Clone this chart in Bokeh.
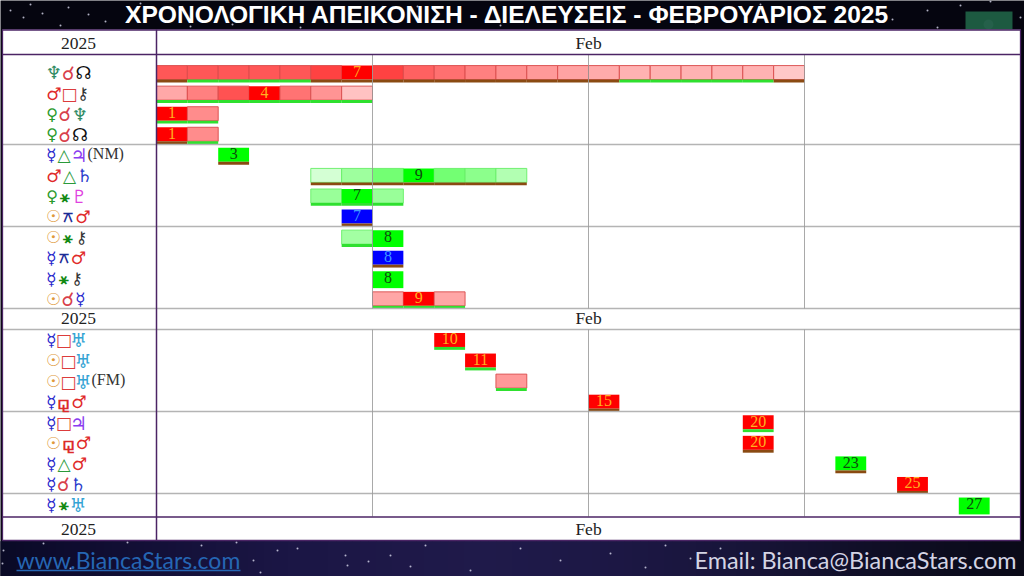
from bokeh.plotting import figure
from bokeh.models import ColumnDataSource, Range1d
from bokeh.core.properties import value
from bokeh.embed import file_html
from bokeh.resources import INLINE

# ---------- chart data ----------
TITLE = "ΧΡΟΝΟΛΟΓΙΚΗ ΑΠΕΙΚΟΝΙΣΗ - ΔΙΕΛΕΥΣΕΙΣ - ΦΕΒΡΟΥΑΡΙΟΣ 2025"
YEAR = "2025"
MONTH = "Feb"
SITE = "www.BiancaStars.com"
EMAIL = "Email: Bianca@BiancaStars.com"

row_slot = [0, 1, 2, 3, 4, 5, 6, 7, 8, 9, 10, 11, 13, 14, 15, 16, 17, 18, 19, 20, 21]
row_glyphs = [
    "♆☌☊", "♂□⚷", "♀☌♆", "♀☌☊",
    "☿△♃", "♂△♄", "♀⚹♇", "☉⚻♂",
    "☉⚹⚷", "☿⚻♂", "☿⚹⚷", "☉☌☿",
    "☿□♅", "☉□♅", "☉□♅", "☿⚼♂",
    "☿□♃", "☉⚼♂", "☿△♂", "☿☌♄",
    "☿⚹♅",
]
row_note = ["", "", "", "", "(NM)", "", "", "", "", "", "", "", "", "", "(FM)", "", "", "", "", "", ""]
row_first_day = [1, 1, 1, 1, 3, 6, 6, 7, 7, 8, 8, 8, 10, 11, 12, 15, 20, 20, 23, 25, 27]
row_kind = ["r", "r", "r", "r", "g", "g", "g", "b", "g", "b", "g", "r", "r", "r", "r", "r", "r", "r", "g", "r", "g"]
row_strength = [
    [.66, .66, .66, .66, .66, .74, 1, .74, .62, .56, .5, .44, .4, .36, .33, .3, .3, .3, .3, .3, .22],
    [.34, .5, .68, 1, .55, .42, .24],
    [1, .45],
    [1, .45],
    [1],
    [.17, .38, .55, 1, .55, .45, .3],
    [.4, 1, .4],
    [1],
    [.36, 1],
    [1],
    [1],
    [.35, 1, .35],
    [1],
    [1],
    [.4],
    [1],
    [1],
    [1],
    [1],
    [1],
    [1],
]
# per-day under-bar: g = applying, b = separating, n = none
row_base = [
    "bggggbbbbbbbbbbgggggb", "ggggggg", "gg", "bg",
    "b", "bbbbbbb", "ggg", "b",
    "gn", "b", "n", "ggg",
    "g", "g", "g", "b",
    "g", "b", "b", "b",
    "n",
]
star_x = [10, 23, 30, 42, 60, 68, 88, 105, 140, 190, 232, 300, 417, 500, 695, 760, 892, 927, 937, 990, 1020, 960,
          2, 43, 127, 201, 236, 253, 277, 297, 345, 347, 368, 390, 425, 470, 520, 560, 610, 645, 665, 690, 720, 3, 70, 260, 410]
star_y = [10, 17, 4, 13, 25, 7, 14, 21, 3, 26, 24, 27, 6, 25, 22, 4, 19, 10, 27, 1, 17, 5,
          563, 543, 542, 545, 542, 560, 550, 548, 555, 565, 561, 555, 545, 570, 548, 560, 553, 567, 545, 558, 548, 550, 568, 572, 566]
footer_shade = ["#0a0a26", "#0e0c2e", "#120f36", "#16123c", "#1a1544", "#1c1746", "#1e1848", "#1f1a4a",
                "#1e1948", "#1c1744", "#1a163f", "#171437", "#13112e", "#0f0e25", "#0c0c1e", "#0a0a18"]

# ---------- styling ----------
DAY_PX = 216 / 7
SLOT_PX = 20.57
ROW0_PX = 73.5
def dx(px): return 1 + (px - 156) / DAY_PX
def dy(px): return (px - ROW0_PX) / SLOT_PX

FULL = {"r": (255, 0, 0), "g": (0, 255, 0), "b": (0, 0, 255)}
EDGE = {"r": "#d94a4a", "g": "#66ee66", "b": "#0000ee"}
NUM = {"r": "#ffb020", "g": "#0e4a0e", "b": "#3f9bff"}
BASE = {"g": "#2fe02f", "b": "#8a4a12"}
COL = {"♆": "#2e8b62", "☌": "#d8404a", "☊": "#111111", "♂": "#e02a2a", "□": "#dc3c3c", "⚷": "#333333",
       "♀": "#2a9a2a", "☿": "#2626cc", "△": "#2a9a3a", "♃": "#8a3cf0", "♄": "#2a3acc", "⚹": "#128a12",
       "♇": "#e040e0", "☉": "#e09a3c", "⚻": "#1c2c96", "♅": "#34a4d4", "⚼": "#dc2a2a"}
INK = {"♆": 12.5, "♂": 13, "♀": 9, "☿": 7.5, "☉": 12, "☌": 10, "□": 10.5, "△": 11, "⚹": 10,
       "⚻": 10, "⚼": 10.5, "☊": 13, "⚷": 10, "♃": 12, "♄": 12, "♇": 12, "♅": 12}
SIZE = {"♆": 18, "♂": 17.5, "♀": 16, "☿": 17, "☉": 16.5, "☌": 19, "□": 17, "△": 17, "⚹": 16,
        "⚻": 15, "⚼": 19, "☊": 18, "⚷": 16, "♃": 19, "♄": 18, "♇": 18, "♅": 19}

def mix(rgb, s):
    return "#%02x%02x%02x" % tuple(round(255 + (c - 255) * s) for c in rgb)

def lerp_hex(a, b, t):
    ca = [int(a[i:i + 2], 16) for i in (1, 3, 5)]
    cb = [int(b[i:i + 2], 16) for i in (1, 3, 5)]
    return "#%02x%02x%02x" % tuple(round(u + (v - u) * t) for u, v in zip(ca, cb))

p = figure(width=1024, height=576, output_backend="svg", toolbar_location=None,
           x_range=Range1d(dx(0), dx(1024)), y_range=Range1d(dy(576), dy(0)),
           min_border=0, background_fill_color="#05050f",
           border_fill_color="#05050f", outline_line_color=None)
p.axis.visible = False
p.grid.visible = False

# page chrome
STEPS = 128
shades = []
for i in range(STEPS):
    f = i / (STEPS - 1) * (len(footer_shade) - 1)
    k = min(int(f), len(footer_shade) - 2)
    shades.append(lerp_hex(footer_shade[k], footer_shade[k + 1], f - k))
p.quad(left=[dx(i * 1024 / STEPS) for i in range(STEPS)], right=[dx((i + 1) * 1024 / STEPS) for i in range(STEPS)],
       top=dy(541), bottom=dy(576), fill_color=shades, line_color=shades)
p.scatter([dx(v) for v in star_x], [dy(v) for v in star_y], size=2, marker="circle",
          fill_color="#dcdcf0", line_color=None, fill_alpha=0.8)
p.quad(left=dx(965), right=dx(1012), top=dy(11), bottom=dy(29), fill_color="#1d5a41", line_color=None)
p.scatter([dx(988)], [dy(24)], size=10, marker="circle", fill_color="#25604a", line_color=None)
p.quad(left=dx(2), right=dx(1020), top=dy(29), bottom=dy(540), fill_color="white", line_color=None)

# cells
cells = dict(l=[], r=[], t=[], bot=[], fill=[], edge=[], alpha=[])
bases = dict(l=[], r=[], t=[], bot=[], color=[])
nums = dict(x=[], y=[], text=[], color=[])
for slot, first, kind, strengths, base_codes in zip(row_slot, row_first_day, row_kind, row_strength, row_base):
    for i, s in enumerate(strengths):
        d = first + i
        cells["l"].append(d); cells["r"].append(d + 1)
        cells["t"].append(slot - 0.41); cells["bot"].append(slot + 0.27 if base_codes[i] != "n" else slot + 0.41)
        cells["fill"].append(mix(FULL[kind], s))
        cells["edge"].append(mix(FULL[kind], 1) if s == 1 else EDGE[kind])
        cells["alpha"].append(0.0 if s == 1 else 0.9)
        code = base_codes[i]
        if code != "n":
            bases["l"].append(d); bases["r"].append(d + 1)
            bases["t"].append(slot + 0.27); bases["bot"].append(slot + 0.41)
            bases["color"].append(BASE[code])
        if s == 1:
            nums["x"].append(d + 0.5); nums["y"].append(slot - 0.12)
            nums["text"].append(str(d)); nums["color"].append(NUM[kind])

p.quad(left="l", right="r", top="t", bottom="bot", fill_color="fill", line_color="edge",
       line_alpha="alpha", line_width=1, source=ColumnDataSource(cells))
p.quad(left="l", right="r", top="t", bottom="bot", fill_color="color", line_color=None,
       source=ColumnDataSource(bases))
p.text(x="x", y="y", text="text", text_color="color", source=ColumnDataSource(nums),
       text_font=value("Liberation Serif"), text_font_size="16px",
       text_align="center", text_baseline="middle")

# table lines
GREY = "#b4b4b4"
PURPLE = "#4b2465"
for y in (144, 226, 308, 329, 411, 493):
    p.segment(dx(2), dy(y), dx(1020), dy(y), line_color=GREY, line_width=1.5)
for x in (372, 588, 804):
    p.segment(dx(x), dy(54), dx(x), dy(308), line_color="#9a9a9a", line_alpha=.85, line_width=1)
    p.segment(dx(x), dy(329), dx(x), dy(516), line_color="#9a9a9a", line_alpha=.85, line_width=1)
p.segment(dx(2), dy(54), dx(1020), dy(54), line_color=PURPLE, line_width=1.5)
p.segment(dx(2), dy(516.5), dx(1020), dy(516.5), line_color=PURPLE, line_width=1.5)
p.segment(dx(156), dy(29), dx(156), dy(540), line_color=PURPLE, line_width=1.5)
p.quad(left=dx(2), right=dx(1020), top=dy(29.5), bottom=dy(540), fill_color=None, line_color=PURPLE, line_width=1.3)

# header texts
p.text([dx(78)] * 3, [dy(42.5), dy(317.5), dy(528.5)], text=[YEAR] * 3, text_color="#222222",
       text_font=value("Liberation Serif"), text_font_size="17.5px", text_align="center", text_baseline="middle")
p.text([dx(588)] * 3, [dy(42.5), dy(317.5), dy(528.5)], text=[MONTH] * 3, text_color="#222222",
       text_font=value("Liberation Serif"), text_font_size="17.5px", text_align="center", text_baseline="middle")

# aspect labels
glyph = dict(x=[], y=[], text=[], color=[], size=[])
note = dict(x=[], y=[], text=[])
for slot, g3, nt in zip(row_slot, row_glyphs, row_note):
    x = 47
    for ch in g3:
        glyph["x"].append(dx(x + INK[ch] / 2)); glyph["y"].append(slot - 0.05); glyph["text"].append(ch)
        glyph["color"].append(COL[ch]); glyph["size"].append("%gpx" % SIZE[ch])
        x += INK[ch] + 3.5
    if nt:
        note["x"].append(dx(x - 1)); note["y"].append(slot - 0.15); note["text"].append(nt)
p.text(x="x", y="y", text="text", text_color="color", source=ColumnDataSource(glyph),
       text_font=value("DejaVu Sans"), text_font_size="size", text_font_style="bold",
       text_baseline="middle", text_align="center")
p.text(x="x", y="y", text="text", text_color="#333333", source=ColumnDataSource(note),
       text_font=value("Liberation Serif"), text_font_size="16px", text_baseline="middle", text_align="left")

# title and footer
p.text([dx(507)], [dy(14)], text=[TITLE], text_color="white", text_font=value("Liberation Sans"),
       text_font_style="bold", text_font_size="24.6px", text_align="center", text_baseline="middle")
p.text([dx(16)], [dy(559)], text=[SITE], text_color="#2566b4", text_font=value("Lato"),
       text_font_size="23px", text_align="left", text_baseline="middle")
p.segment(dx(16), dy(570), dx(240), dy(570), line_color="#2566b4", line_width=1.3)
p.text([dx(1016)], [dy(559)], text=[EMAIL], text_color="#d4d4e4", text_font=value("Lato"),
       text_font_size="23.4px", text_align="right", text_baseline="middle")

open("out.html", "w").write(file_html(p, INLINE))
